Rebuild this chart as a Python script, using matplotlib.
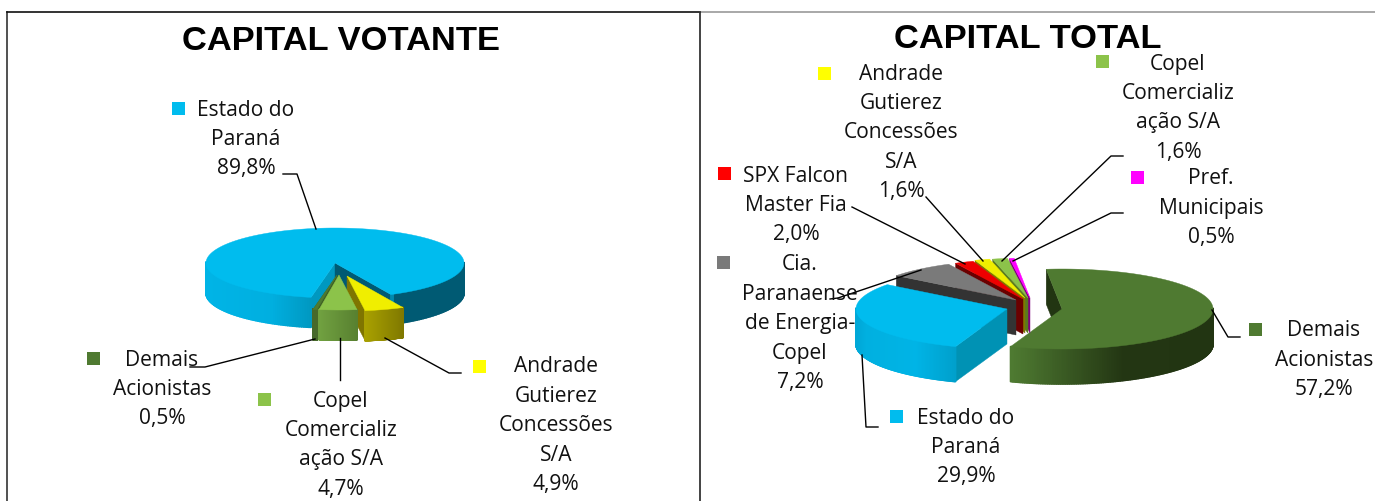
import numpy as np
import matplotlib
matplotlib.use("Agg")
import matplotlib.pyplot as plt
from matplotlib.patches import Polygon, Rectangle
from matplotlib.colors import to_rgb

# ---- data ----
vot_labels = ["Estado do\nParaná", "Andrade\nGutierez\nConcessões\nS/A", "Copel\nComercializ\nação S/A", "Demais\nAcionistas"]
vot_values = [89.8, 4.9, 4.7, 0.5]
tot_labels = ["Demais\nAcionistas", "Estado do\nParaná", "Cia.\nParanaense\nde Energia-\nCopel",
              "SPX Falcon\nMaster Fia", "Andrade\nGutierez\nConcessões\nS/A", "Copel\nComercializ\nação S/A",
              "Pref.\nMunicipais"]
tot_values = [57.2, 29.9, 7.2, 2.0, 1.6, 1.6, 0.5]

BLUE, GREEN, LIME, YEL, RED, GRAY, MAG = "#00BCEE", "#4F7A31", "#8CC34A", "#F0EE00", "#EE0000", "#7A7A7A", "#FF00FF"
KEYYEL, KEYRED = "#FFFF00", "#FF0000"
fmt = lambda v: f"{v:.1f}%".replace(".", ",")

fig = plt.figure(figsize=(13.75, 5.01), dpi=100)
ax = fig.add_axes([0, 0, 1, 1])
ax.set_xlim(0, 1375); ax.set_ylim(501, 0); ax.axis("off")

def slice3d(cx, cy, rx, ry, depth, a0, a1, off, top, stops=None, wall0=None, wall1=None, z=1):
    """a0 > a1, degrees, clockwise. off = displacement of the slice."""
    cx += off[0]; cy += off[1]
    ang = np.radians(np.linspace(a0, a1, 300))
    xs, ys = cx + rx*np.cos(ang), cy - ry*np.sin(ang)
    if wall0:
        p0 = (xs[0], ys[0])
        ax.add_patch(Polygon([(cx, cy), p0, (p0[0], p0[1]+depth), (cx, cy+depth)], fc=wall0, ec=wall0, lw=.3, zorder=z))
    if wall1:
        p1 = (xs[-1], ys[-1])
        ax.add_patch(Polygon([(cx, cy), p1, (p1[0], p1[1]+depth), (cx, cy+depth)], fc=wall1, ec=wall1, lw=.3, zorder=z))
    if stops:
        front = np.where(np.sin(ang[:-1]) < 0.02)[0]
        if len(front):
            xmin, xmax = xs[front].min(), xs[front+1].max()
            t_s = [s[0] for s in stops]
            rgb = np.array([to_rgb(s[1]) for s in stops])
            for i in front:
                t = (0.5*(xs[i]+xs[i+1]) - xmin) / max(xmax-xmin, 1e-6)
                c = [np.interp(t, t_s, rgb[:, k]) for k in range(3)]
                ax.add_patch(Polygon([(xs[i], ys[i]), (xs[i+1], ys[i+1]), (xs[i+1], ys[i+1]+depth), (xs[i], ys[i]+depth)],
                                     fc=c, ec=c, lw=1.2, joinstyle="round", zorder=z))
    ax.add_patch(Polygon(np.r_[[[cx, cy]], np.c_[xs, ys]], fc=top, ec=top, lw=.3, zorder=z + .5))

def angles(values, start):
    tot = sum(values); out = []; a = start
    for v in values:
        b = a - 360*v/tot
        out.append((a, b)); a = b
    return out

# ---- left pie ----
A = angles(vot_values, -100.7)
L = dict(cx=335, cy=263, rx=129, ry=35, depth=30)
slice3d(**L, a0=A[0][0], a1=A[0][1], off=(0, 0), top=BLUE, z=2,
        stops=[(0, "#00B4E6"), (.25, "#00AFE0"), (.42, "#0096BE"), (.72, "#0096BE"), (.725, "#005A73"), (1, "#005A73")],
        wall0="#0098C0", wall1="#005A73")
slice3d(**L, a0=A[1][0], a1=A[1][1], off=(12, 13), top=YEL, z=3,
        stops=[(0, "#A8A000"), (1, "#7F7800")], wall1="#7F7500")
slice3d(**L, a0=A[3][0], a1=A[3][1], off=(2, 12), top=GREEN, z=4,
        stops=[(0, "#47692B"), (1, "#47692B")], wall1="#3E5F24")
slice3d(**L, a0=A[2][0], a1=A[2][1], off=(4, 12), top=LIME, z=5,
        stops=[(0, "#70A040"), (1, "#588030")], wall1="#47692B")

# ---- right pie ----
B = angles(tot_values, 96)
R = dict(cx=1032, cy=306, rx=151, ry=40, depth=35)
slice3d(**R, a0=B[0][0], a1=B[0][1], off=(30, 3), top=GREEN, z=2,
        stops=[(0, "#4E7A31"), (.55, "#233613"), (1, "#223512")], wall0="#223512")
slice3d(**R, a0=B[6][0], a1=B[6][1], off=(-2, -8), top=MAG, wall0="#7F007F", z=3)
slice3d(**R, a0=B[5][0], a1=B[5][1], off=(-4, -8), top=LIME, wall0="#5A7A20", z=4)
slice3d(**R, a0=B[4][0], a1=B[4][1], off=(-7, -8), top=YEL, wall0="#7F7800", z=5)
slice3d(**R, a0=B[3][0], a1=B[3][1], off=(-9, -7), top=RED, wall0="#6B0000", z=6)
slice3d(**R, a0=B[2][0], a1=B[2][1], off=(-16, -6), top=GRAY, wall0="#333333", z=7)
slice3d(**R, a0=B[1][0], a1=B[1][1], off=(-25, 3), top=BLUE, z=8,
        stops=[(0, "#00A8D8"), (.1, "#00B0E0"), (.6, "#00B4E6"), (1, "#00A0CC")], wall0="#0092B4")

# ---- frame ----
ax.plot([7, 7], [501, 12], color="#333333", lw=1.2, zorder=20)
ax.plot([7, 700], [12, 12], color="#111111", lw=1.2, zorder=20)
ax.plot([700, 1375], [12, 12], color="#999999", lw=1.2, zorder=20)
ax.plot([700, 700], [12, 501], color="#222222", lw=1.2, zorder=20)

# ---- titles ----
ttl = dict(family="Liberation Sans", weight="bold", fontsize=24.8, ha="center", va="center", color="black", zorder=30)
ax.text(341.5, 41, "CAPITAL VOTANTE", **ttl)
ax.text(1028, 39, "CAPITAL TOTAL", **ttl)

# ---- labels ----
def label(cx, y, txt, val, key, col):
    s = txt + "\n" + fmt(val)
    for i, line in enumerate(s.split("\n")):
        ax.text(cx, y + i*29.4, line, family="Open Sans", fontsize=15.1, ha="center", va="center", color="#111111", zorder=30)
    ax.add_patch(Rectangle((key[0]-6.5, key[1]-6.5), 13, 13, fc=col, ec="none", zorder=30))

label(246, 110, vot_labels[0], vot_values[0], (179, 108), BLUE)
label(556, 367, vot_labels[1], vot_values[1], (480, 366), KEYYEL)
label(341, 401, vot_labels[2], vot_values[2], (265, 399), LIME)
label(162, 360, vot_labels[3], vot_values[3], (94, 358), GREEN)
label(1324, 331, tot_labels[0], tot_values[0], (1256, 329), GREEN)
label(966, 418, tot_labels[1], tot_values[1], (897, 416), BLUE)
label(800, 265, tot_labels[2], tot_values[2], (724, 262), GRAY)
label(796, 176, tot_labels[3], tot_values[3], (725, 173), KEYRED)
label(901, 74, tot_labels[4], tot_values[4], (825, 73), KEYYEL)
label(1178, 64, tot_labels[5], tot_values[5], (1103, 61), LIME)
label(1211, 179, tot_labels[6], tot_values[6], (1138, 177), MAG)

# ---- leader lines ----
leaders = [
    [(283, 174), (297, 174), (316, 229)],
    [(190, 367), (205, 367), (315, 339)],
    [(340, 338), (340, 380)],
    [(385, 338), (449, 373), (461, 373)],
    [(1212, 310), (1228, 337), (1240, 337)],
    [(862, 355), (866, 427), (878, 427)],
    [(830, 299), (838, 298), (921, 270)],
    [(852, 207), (965, 264)],
    [(926, 197), (983, 261)],
    [(1123, 156), (1111, 156), (1002, 261)],
    [(1123, 213), (1111, 213), (1013, 261)],
]
for l in leaders:
    xs, ys = zip(*l)
    ax.plot(xs, ys, color="black", lw=1, zorder=25)

fig.savefig("out.png", dpi=100)
